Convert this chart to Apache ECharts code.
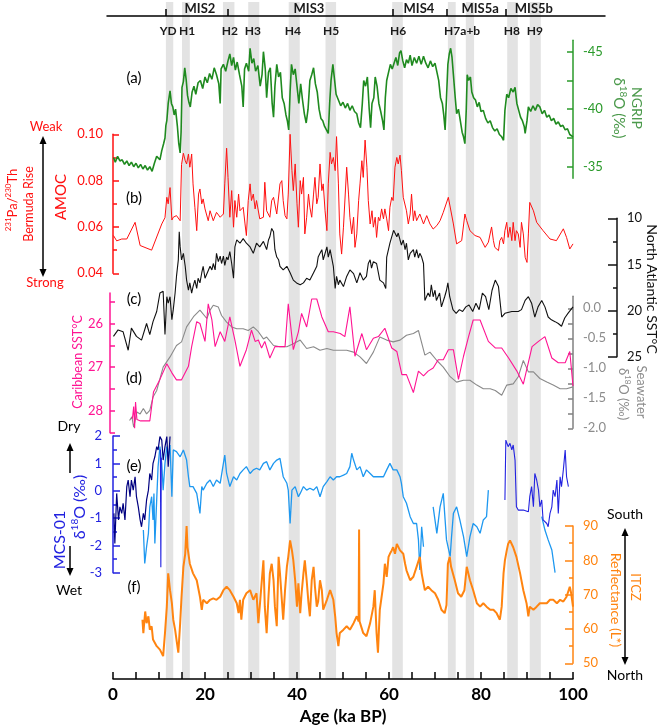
<!DOCTYPE html>
<html><head><meta charset="utf-8">
<script src="https://cdn.jsdelivr.net/npm/echarts@6/dist/echarts.min.js"></script>
<style>html,body{margin:0;padding:0;background:#fff}#c{width:660px;height:726px}</style>
</head><body><div id="c"></div>
<script>
// ---------------- DATA ----------------
const bands = [[11.5,13.1],[15.0,16.7],[23.9,26.4],[29.4,31.8],[38.2,40.6],[46.2,48.5],[60.7,63.0],[72.8,74.5],[76.7,78.5],[85.7,88.0],[90.6,93.0]];
const hPos = [12.0,16.1,25.4,30.4,39.1,47.4,62.0,75.9,86.7,91.7];
const hNames = ['YD','H1','H2','H3','H4','H5','H6','H7a+b','H8','H9'];
const misBounds = [11.5,25.0,60.8,72.5,85.4];
const misPos = [18.9,42.6,66.5,79.8,91.5];
const misNames = ['MIS2','MIS3','MIS4','MIS5a','MIS5b'];

const ngrip = [[0.1,-35.8],[0.5,-35.4],[1.0,-35.9],[1.5,-35.5],[2.0,-35.6],[2.5,-35.2],[3.0,-35.5],[3.5,-35.1],[4.0,-35.4],[4.5,-35.0],[5.0,-35.3],[5.5,-34.9],[6.0,-35.2],[6.5,-34.8],[7.0,-35.1],[7.5,-34.7],[8.0,-35.0],[8.5,-34.6],[9.0,-35.3],[9.5,-35.9],[10.2,-35.6],[10.6,-36.4],[11.0,-37.0],[11.3,-37.5],[11.5,-38.6],[11.7,-39.0],[12.0,-40.5],[12.4,-41.6],[12.7,-40.5],[13.0,-40.2],[13.3,-39.5],[13.6,-40.0],[14.0,-38.5],[14.3,-37.0],[14.6,-36.2],[14.8,-38.0],[15.0,-41.9],[15.3,-42.4],[15.6,-43.6],[15.9,-42.6],[16.2,-41.2],[16.5,-40.6],[16.8,-40.2],[17.2,-41.5],[17.6,-42.0],[18.0,-41.3],[18.5,-42.3],[19.0,-42.5],[19.5,-41.8],[20.0,-42.8],[20.5,-42.3],[21.0,-43.1],[21.5,-42.6],[22.0,-43.6],[22.5,-43.0],[23.0,-42.2],[23.3,-40.5],[23.5,-43.5],[24.0,-43.9],[24.5,-43.3],[25.0,-44.2],[25.4,-44.8],[25.8,-43.8],[26.2,-44.5],[26.6,-43.4],[27.0,-44.1],[27.5,-43.0],[28.0,-42.0],[28.3,-40.2],[28.6,-43.5],[29.0,-44.0],[29.5,-43.3],[29.8,-45.3],[30.2,-44.0],[30.6,-44.4],[31.0,-43.3],[31.5,-43.8],[32.0,-42.0],[32.4,-43.0],[32.7,-45.0],[33.1,-43.5],[33.4,-41.0],[33.8,-43.2],[34.2,-43.6],[34.6,-40.5],[34.9,-39.3],[35.2,-42.0],[35.6,-43.9],[36.0,-42.8],[36.4,-43.2],[36.8,-41.0],[37.2,-40.5],[37.6,-39.5],[37.9,-39.0],[38.2,-38.2],[38.5,-41.5],[38.8,-43.9],[39.2,-43.0],[39.6,-43.5],[40.0,-42.0],[40.4,-40.5],[40.8,-42.2],[41.2,-40.8],[41.6,-39.6],[42.0,-38.8],[42.4,-40.0],[42.8,-42.5],[43.2,-43.0],[43.6,-43.6],[44.0,-42.2],[44.4,-41.5],[44.8,-40.0],[45.2,-39.2],[45.6,-39.0],[46.0,-38.5],[46.4,-38.4],[46.8,-37.9],[47.1,-40.5],[47.4,-42.5],[47.8,-43.9],[48.1,-42.8],[48.5,-41.3],[49.0,-40.8],[49.5,-40.3],[50.0,-40.6],[50.5,-40.1],[51.0,-40.5],[51.5,-39.9],[52.0,-40.3],[52.5,-39.8],[53.0,-39.6],[53.4,-38.8],[53.8,-38.4],[54.2,-40.5],[54.5,-42.5],[54.9,-42.0],[55.3,-42.8],[55.7,-40.0],[56.0,-38.4],[56.3,-40.5],[56.7,-41.0],[57.0,-42.8],[57.4,-42.0],[57.8,-40.5],[58.2,-39.8],[58.6,-39.0],[58.9,-38.2],[59.2,-41.0],[59.5,-42.5],[59.9,-43.2],[60.3,-43.9],[60.7,-43.5],[61.1,-44.0],[61.5,-44.5],[61.9,-43.8],[62.3,-44.9],[62.6,-45.1],[63.0,-44.2],[63.4,-43.6],[63.8,-44.3],[64.2,-44.0],[64.6,-44.7],[65.0,-43.8],[65.5,-44.5],[66.0,-44.0],[66.5,-44.6],[67.0,-43.9],[67.5,-44.6],[68.0,-44.0],[68.5,-43.6],[69.0,-44.2],[69.5,-43.7],[70.0,-44.0],[70.4,-43.9],[70.8,-42.5],[71.2,-41.0],[71.6,-40.5],[71.9,-39.5],[72.2,-38.2],[72.5,-41.0],[72.8,-43.9],[73.1,-44.8],[73.4,-45.3],[73.7,-44.5],[74.0,-43.0],[74.4,-41.0],[74.7,-39.6],[75.1,-40.0],[75.5,-39.0],[75.9,-38.0],[76.2,-37.6],[76.5,-37.0],[76.8,-40.0],[77.0,-43.0],[77.3,-42.5],[77.7,-42.8],[78.0,-41.5],[78.4,-41.0],[78.8,-40.8],[79.2,-40.2],[79.6,-40.6],[80.0,-39.8],[80.5,-39.9],[81.0,-39.2],[81.5,-38.8],[82.0,-39.0],[82.5,-38.4],[83.0,-38.1],[83.5,-38.3],[84.0,-37.8],[84.5,-37.6],[84.9,-37.3],[85.2,-39.9],[85.6,-41.3],[86.0,-41.0],[86.5,-41.8],[87.0,-41.5],[87.4,-41.9],[87.8,-40.5],[88.2,-39.9],[88.6,-39.3],[89.0,-39.0],[89.4,-38.5],[89.6,-37.9],[90.0,-39.0],[90.3,-40.2],[90.8,-39.8],[91.3,-40.3],[91.8,-39.9],[92.3,-40.4],[92.8,-40.2],[93.3,-39.6],[93.8,-39.9],[94.3,-39.3],[94.8,-39.5],[95.3,-39.0],[95.8,-39.2],[96.3,-38.7],[96.8,-38.9],[97.3,-38.5],[97.8,-38.6],[98.3,-38.2],[98.8,-38.3],[99.3,-37.8],[100,-37.6]];

const amoc = [[0.1,0.0563],[0.8,0.054],[1.9,0.0548],[3.0,0.0548],[4.8,0.062],[5.9,0.052],[8.4,0.050],[10.6,0.0613],[11.3,0.064],[11.7,0.0728],[12.0,0.070],[12.4,0.077],[12.8,0.063],[13.1,0.0642],[13.8,0.0649],[14.6,0.0627],[14.9,0.087],[15.3,0.0918],[15.7,0.0886],[16.0,0.0872],[16.4,0.0915],[16.7,0.0858],[17.1,0.0915],[17.4,0.0786],[17.8,0.0685],[18.2,0.0584],[18.6,0.0742],[18.9,0.0764],[19.3,0.070],[19.6,0.0721],[20.0,0.0678],[20.4,0.067],[20.7,0.0627],[21.1,0.067],[21.8,0.0627],[22.5,0.0663],[23.3,0.0642],[24.0,0.0656],[24.3,0.0786],[24.7,0.094],[25.0,0.0814],[25.4,0.0642],[25.8,0.0757],[26.2,0.0599],[26.5,0.0714],[26.9,0.0642],[27.3,0.0742],[27.6,0.067],[28.3,0.0685],[28.7,0.0613],[29.0,0.0563],[29.4,0.0714],[29.8,0.0786],[30.1,0.0714],[30.5,0.0742],[30.9,0.0678],[31.2,0.0714],[31.9,0.0635],[32.7,0.0642],[33.0,0.0793],[33.4,0.067],[34.1,0.0642],[34.5,0.0714],[34.9,0.0728],[35.6,0.0656],[36.3,0.0786],[36.7,0.080],[37.0,0.0714],[37.4,0.0649],[37.8,0.0635],[38.1,0.0742],[38.5,0.100],[38.9,0.0843],[39.2,0.0757],[39.6,0.0872],[40.0,0.070],[40.3,0.0599],[40.7,0.080],[41.0,0.0742],[41.4,0.0814],[41.7,0.057],[42.1,0.0642],[42.5,0.0742],[42.8,0.0685],[43.2,0.0642],[43.6,0.0742],[43.9,0.0814],[44.3,0.070],[44.6,0.0728],[45.0,0.0872],[45.4,0.0757],[45.7,0.0786],[46.1,0.067],[46.5,0.0584],[46.8,0.0786],[47.2,0.0922],[47.5,0.0872],[47.9,0.090],[48.3,0.0843],[48.6,0.099],[49.0,0.0786],[49.3,0.057],[49.7,0.0483],[50.1,0.0599],[50.8,0.0858],[51.2,0.0742],[51.5,0.0642],[51.9,0.057],[52.3,0.0642],[52.6,0.0512],[53.0,0.057],[53.4,0.0714],[53.7,0.0786],[54.1,0.0886],[54.4,0.0814],[54.8,0.0975],[55.2,0.0858],[55.5,0.0714],[55.9,0.0613],[56.3,0.067],[56.6,0.0599],[57.0,0.0642],[57.3,0.0555],[57.7,0.0642],[58.0,0.0627],[58.4,0.0678],[58.8,0.0635],[59.1,0.0678],[59.5,0.0635],[59.9,0.0584],[60.2,0.0685],[60.6,0.0728],[60.9,0.0714],[61.3,0.0858],[61.7,0.090],[62.0,0.0872],[62.4,0.091],[62.7,0.0843],[63.1,0.0728],[63.8,0.067],[64.2,0.0613],[64.6,0.0656],[64.9,0.0742],[65.3,0.0627],[65.6,0.067],[66.0,0.0627],[66.7,0.0656],[67.5,0.0613],[68.2,0.0649],[68.9,0.0613],[69.6,0.0591],[70.4,0.0606],[71.1,0.0627],[71.8,0.0663],[72.9,0.0728],[74.0,0.0613],[74.7,0.0527],[75.8,0.0541],[76.5,0.0656],[76.9,0.0627],[77.6,0.0584],[78.7,0.0563],[79.8,0.0555],[80.9,0.0512],[81.6,0.0534],[82.3,0.060],[82.7,0.0541],[83.0,0.0512],[83.8,0.0498],[84.1,0.0541],[84.5,0.0555],[84.9,0.0527],[85.2,0.0584],[85.6,0.062],[85.9,0.0555],[86.3,0.0599],[86.7,0.0541],[87.0,0.062],[87.4,0.0541],[87.7,0.0584],[88.1,0.057],[88.5,0.0512],[88.8,0.062],[89.2,0.057],[89.6,0.0469],[90.0,0.0447],[90.3,0.057],[90.6,0.0706],[91.4,0.067],[92.1,0.062],[93.5,0.0584],[95.0,0.0548],[96.4,0.0541],[97.9,0.0592],[98.6,0.0555],[99.3,0.0505],[100,0.0527]];

const naSST = [[0.1,22.8],[1.1,22.1],[2.2,22.3],[3.3,24.3],[4.0,21.9],[5.1,22.8],[6.2,23.2],[7.3,21.4],[8.0,22.6],[8.7,21.2],[9.5,20.1],[10.2,18.1],[10.9,17.9],[11.3,22.6],[11.7,18.5],[12.0,19.2],[12.4,18.5],[12.8,21.0],[13.1,19.9],[13.5,18.1],[13.8,16.3],[14.2,14.5],[14.4,11.45],[14.6,13.1],[14.9,14.5],[15.3,13.8],[15.7,15.2],[16.0,16.7],[16.4,17.8],[16.7,17.0],[17.1,18.1],[17.4,17.4],[17.8,16.7],[18.2,17.6],[18.5,16.5],[18.9,17.0],[19.3,15.9],[19.6,15.2],[20.0,16.5],[20.4,16.3],[21.1,15.2],[21.5,15.6],[21.8,14.9],[22.2,15.6],[22.5,13.8],[22.9,14.7],[23.3,14.1],[23.6,14.9],[24.0,14.1],[24.3,15.1],[24.7,14.2],[25.0,14.5],[25.4,13.6],[25.8,14.9],[26.2,16.5],[26.5,13.1],[26.9,12.35],[27.6,12.7],[28.3,12.2],[29.0,12.7],[29.8,13.1],[30.5,13.8],[31.2,12.7],[31.9,13.1],[32.7,12.5],[33.4,13.4],[33.8,12.35],[34.1,12.0],[34.5,11.1],[34.9,11.45],[35.2,13.4],[35.6,14.2],[36.0,14.5],[36.3,15.2],[37.0,15.6],[37.8,15.2],[38.5,15.9],[39.2,16.7],[39.9,17.0],[40.7,17.2],[41.4,17.0],[42.1,16.5],[42.8,16.7],[43.6,15.9],[44.3,15.2],[44.6,14.2],[45.0,13.8],[45.4,13.4],[45.7,14.5],[46.1,13.8],[46.5,13.1],[46.8,14.2],[47.2,13.4],[47.9,15.2],[48.3,17.6],[48.6,16.3],[49.0,17.2],[49.3,16.7],[50.1,17.4],[50.8,16.3],[51.5,15.6],[52.3,16.0],[53.0,17.0],[53.7,15.9],[54.4,16.7],[55.1,16.3],[55.5,14.9],[55.9,14.5],[56.2,15.4],[56.6,14.7],[57.3,14.9],[58.0,16.7],[58.8,17.0],[59.3,17.6],[59.5,14.2],[60.2,12.7],[61.0,11.3],[61.7,12.0],[62.0,11.6],[62.4,12.35],[62.7,12.9],[63.1,12.35],[63.5,13.4],[63.8,12.7],[64.2,14.5],[64.6,13.8],[65.3,13.4],[65.6,14.2],[66.0,13.4],[66.4,14.3],[66.7,13.8],[67.1,14.2],[67.5,14.9],[67.8,18.9],[68.5,18.1],[68.9,18.5],[69.2,17.2],[69.6,18.5],[70.0,17.8],[70.3,18.9],[71.0,18.1],[71.4,19.6],[72.1,18.5],[72.5,17.8],[72.8,17.0],[73.2,18.5],[73.9,19.9],[74.6,20.3],[75.3,19.9],[76.0,20.1],[76.7,19.6],[77.4,19.4],[78.2,20.1],[78.9,19.2],[79.6,19.9],[80.3,18.1],[81.0,18.5],[81.7,19.9],[82.4,17.8],[83.1,16.7],[83.8,17.4],[84.5,20.7],[85.2,20.3],[86.7,20.1],[88.1,20.1],[88.8,19.9],[89.6,18.9],[90.3,18.5],[91.0,19.2],[91.7,20.7],[92.4,19.6],[93.2,18.9],[93.9,19.6],[94.6,20.7],[95.3,21.0],[96.1,21.2],[96.8,21.4],[97.5,21.7],[98.2,20.8],[98.9,20.3],[100,19.6]];

const caribSST = [[4.2,28.18],[4.3,28.1],[4.5,27.9],[4.7,28.4],[4.9,27.8],[5.2,28.2],[5.5,28.22],[6.0,28.23],[8.0,28.23],[8.8,27.57],[10.2,27.28],[11.7,26.92],[12.8,27.13],[13.8,27.29],[14.9,27.29],[16.4,26.98],[17.1,26.53],[18.2,25.96],[18.9,26.0],[20.0,26.41],[20.7,25.55],[21.5,25.92],[22.2,26.53],[23.3,26.19],[24.3,26.41],[25.4,25.85],[26.5,26.38],[27.6,26.98],[29.0,26.6],[30.1,26.15],[30.9,26.41],[31.6,26.38],[32.3,26.56],[33.0,26.41],[34.1,26.79],[35.2,26.53],[36.3,26.53],[37.4,26.53],[38.1,25.55],[39.2,26.6],[40.3,26.19],[41.0,25.77],[42.1,26.08],[43.2,25.44],[44.3,25.44],[45.4,25.85],[46.8,26.19],[47.9,26.19],[49.4,26.23],[50.4,26.3],[51.5,25.62],[52.6,26.75],[54.1,26.23],[55.1,26.6],[56.6,26.34],[57.7,26.3],[59.1,26.11],[60.6,26.56],[61.7,26.64],[62.8,27.17],[63.8,27.17],[65.3,27.58],[66.4,27.09],[67.5,27.2],[68.5,27.09],[69.6,27.02],[70.7,26.83],[71.8,26.83],[72.9,26.6],[74.0,26.6],[75.1,27.28],[76.2,26.75],[77.3,26.3],[78.3,25.92],[79.8,25.92],[81.6,26.41],[83.1,26.56],[84.5,26.56],[86.0,26.79],[87.8,27.09],[89.2,27.39],[91.1,26.53],[92.5,26.41],[93.9,26.3],[95.4,26.79],[96.8,26.9],[98.3,26.9],[99.3,26.64],[100,27.43]];

const seawater = [[3.6,-1.87],[4.1,-1.81],[4.5,-1.98],[5.2,-1.73],[5.9,-1.76],[6.6,-1.67],[7.3,-1.76],[8.0,-1.70],[8.7,-1.48],[9.5,-1.37],[10.9,-0.98],[12.4,-0.81],[13.8,-0.62],[14.9,-0.56],[16.0,-0.31],[17.5,-0.14],[18.9,-0.03],[20.4,-0.17],[21.1,-0.03],[21.8,0.05],[22.9,0.02],[23.6,-0.12],[24.7,-0.23],[25.8,-0.31],[26.9,-0.34],[28.3,-0.34],[29.4,-0.37],[30.5,-0.31],[31.6,-0.39],[32.7,-0.51],[33.4,-0.48],[34.9,-0.62],[36.3,-0.64],[37.8,-0.64],[39.2,-0.59],[40.7,-0.53],[42.1,-0.67],[43.6,-0.64],[45.0,-0.70],[46.5,-0.67],[47.9,-0.70],[49.4,-0.70],[50.8,-0.70],[52.3,-0.73],[53.7,-0.81],[55.1,-0.92],[56.6,-0.73],[58.0,-0.48],[59.5,-0.53],[60.9,-0.56],[62.4,-0.53],[63.8,-0.45],[65.3,-0.42],[66.4,-0.37],[67.8,-0.78],[68.9,-0.73],[70.4,-0.87],[71.8,-0.98],[73.3,-1.14],[74.7,-1.23],[76.2,-1.20],[77.6,-1.20],[79.1,-1.28],[80.5,-1.34],[82.0,-1.34],[83.1,-1.37],[84.5,-1.45],[85.6,-1.28],[87.0,-1.26],[88.1,-1.14],[89.2,-0.87],[90.3,-1.06],[91.4,-1.06],[92.8,-1.17],[94.3,-1.23],[95.7,-1.28],[97.2,-1.34],[98.6,-1.34],[100,-1.31]];

const mcsLight = [[6.6,-1.44],[6.9,-2.66],[7.3,-2.05],[7.7,-1.56],[8.0,-0.59],[8.4,-0.22],[8.7,-1.07],[8.9,-0.1],[9.1,-1.93],[9.5,-0.34],[9.8,0.88],[10.2,1.61],[10.6,1.0],[10.9,0.02],[11.3,1.0],[11.7,1.61],[12.0,1.24],[12.4,1.67],[12.8,-0.22],[13.1,1.49],[13.8,1.43],[14.6,1.24],[15.3,1.49],[15.7,1.55],[16.0,1.12],[16.4,0.51],[16.7,0.15],[17.4,0.15],[18.2,-0.1],[18.9,-0.83],[19.3,0.15],[19.6,0.02],[20.4,0.27],[21.1,0.39],[21.8,0.15],[22.5,0.39],[23.3,0.27],[24.0,1.0],[24.3,1.3],[24.7,0.63],[25.4,0.15],[26.2,0.51],[26.9,0.39],[27.6,0.63],[28.3,0.76],[29.0,0.88],[29.8,0.63],[30.5,0.76],[31.2,0.82],[31.9,0.76],[32.7,1.0],[33.4,1.06],[34.1,0.76],[34.9,1.0],[35.6,1.12],[36.3,1.18],[37.0,0.51],[37.8,0.27],[38.1,0.02],[38.5,-1.2],[38.9,0.02],[39.6,0.15],[40.3,-0.22],[40.7,-0.1],[41.4,0.15],[42.1,0.02],[42.8,0.09],[43.6,0.02],[44.3,0.15],[45.0,-0.22],[45.7,0.15],[46.5,0.33],[47.2,0.51],[47.9,0.39],[48.6,0.51],[49.3,0.51],[50.1,0.57],[50.8,0.63],[51.5,0.88],[51.9,1.37],[52.3,1.12],[53.0,0.76],[53.7,0.88],[54.4,0.51],[55.1,0.76],[55.9,0.63],[56.6,0.51],[57.3,0.51],[58.0,0.51],[58.8,0.51],[59.5,0.76],[60.2,1.0],[60.9,0.76],[61.7,0.76],[62.4,0.51],[62.7,0.27],[63.1,-0.22],[63.8,-0.46],[64.6,-0.95],[65.3,-1.2],[66.0,-1.2],[66.4,-1.8],[66.7,-2.9],[67.1,-1.32],[67.5,-2.05],[68.5,null],[69.6,-0.59],[70.4,-1.56],[71.1,-0.59],[71.8,-0.1],[72.2,-1.07],[72.5,-1.8],[73.3,-2.41],[73.6,-1.68],[74.0,-0.83],[74.7,-0.59],[75.4,-1.07],[76.2,-1.68],[76.9,-2.41],[77.6,-1.68],[78.3,-1.2],[79.1,-1.32],[79.8,-1.56],[80.5,-1.07],[81.2,-0.95],[81.6,0.02],[85.0,null],[93.2,-0.95],[93.9,-1.44],[94.6,-1.8],[95.4,-2.17],[96.1,-3.0]];

const mcsNavy = [[0.2,-0.83],[0.4,-1.93],[0.8,-0.1],[1.2,-1.07],[1.5,-0.59],[1.9,-0.83],[2.2,-0.46],[2.6,-1.07],[3.0,0.15],[3.3,0.39],[3.7,-0.22],[4.0,0.39],[4.4,0.02],[4.8,0.51],[5.1,-0.22],[5.5,-0.59],[5.9,-1.07],[6.2,-1.32],[6.6,-0.83],[6.9,-1.07],[7.3,-0.34],[7.7,0.02],[8.0,0.63],[8.4,0.39],[8.7,1.0],[9.1,1.24],[9.5,1.61],[9.8,1.49],[10.2,1.98],[10.6,1.85],[10.9,1.12],[11.3,1.61],[11.7,1.98],[12.0,0.88],[12.4,1.98]];

const mcsBlue = [[10.3,1.5],[10.4,-2.8],[10.5,1.2],[11.0,null],[85.2,-0.34],[85.4,1.85],[85.9,1.61],[86.3,1.73],[86.7,1.49],[87.0,1.67],[87.4,1.12],[87.7,-0.59],[88.1,-0.71],[89.2,-0.71],[90.3,-0.77],[90.6,-0.22],[91.0,0.15],[91.4,-0.59],[91.7,0.63],[92.1,0.39],[92.5,0.02],[92.8,-0.59],[93.2,-0.34],[93.5,-1.07],[94.3,-1.2],[94.6,-1.32],[95.0,-0.83],[95.4,-0.59],[95.7,0.02],[96.1,-0.22],[96.5,0.39],[96.8,-0.83],[97.2,0.51],[97.5,0.15],[97.9,0.76],[98.3,1.49],[98.6,0.51],[99.0,0.15]];

const itcz = [[6.4,62.7],[6.6,58.8],[7.0,65.1],[7.3,61.7],[7.7,63.7],[8.0,59.8],[8.4,60.8],[8.7,56.9],[9.5,55.0],[10.2,54.0],[10.9,52.1],[11.3,58.8],[11.7,66.5],[12.0,76.2],[12.4,71.3],[12.8,67.5],[13.1,62.7],[13.5,59.8],[13.8,56.9],[14.2,53.1],[14.6,61.7],[14.9,69.4],[15.3,78.1],[15.7,81.9],[16.0,90.0],[16.2,83.8],[16.7,79.0],[17.4,76.2],[18.2,74.2],[18.9,69.4],[19.3,65.6],[19.6,68.5],[20.4,67.5],[21.1,68.5],[21.8,68.9],[22.5,68.5],[23.3,69.4],[24.0,71.3],[24.7,72.3],[25.4,71.3],[26.2,69.4],[26.9,67.5],[27.3,64.6],[27.6,68.5],[27.9,62.7],[28.3,68.5],[29.0,70.4],[29.8,71.3],[30.5,68.5],[31.2,70.4],[31.6,61.7],[31.9,66.5],[32.3,73.3],[32.7,80.0],[33.0,66.5],[33.4,58.8],[33.8,69.4],[34.1,76.2],[34.5,79.0],[34.9,74.2],[35.2,66.5],[35.6,60.8],[36.0,81.0],[36.3,76.2],[36.7,68.5],[37.0,62.7],[37.4,71.3],[37.8,78.1],[38.1,81.0],[38.5,85.8],[38.9,82.9],[39.2,80.0],[39.6,74.2],[40.0,66.5],[40.3,73.3],[40.7,64.6],[41.0,70.4],[41.4,76.2],[41.7,80.0],[42.1,74.2],[42.5,67.5],[42.8,63.7],[43.2,74.2],[43.6,78.1],[43.9,72.3],[44.3,66.5],[44.6,68.0],[45.0,74.2],[45.4,71.3],[45.7,65.6],[46.5,68.5],[47.2,71.3],[47.9,68.5],[48.3,63.7],[48.6,58.8],[49.0,55.0],[49.3,58.8],[50.1,59.8],[50.8,60.8],[51.5,59.8],[52.3,61.7],[53.0,63.7],[53.4,62.2],[53.5,89.0],[53.6,62.2],[54.4,58.8],[55.1,57.9],[55.9,61.7],[56.6,66.5],[56.9,71.3],[57.3,58.8],[57.6,53.1],[58.0,65.6],[58.4,69.4],[58.8,73.3],[59.1,79.0],[59.5,75.2],[59.9,81.0],[60.2,81.9],[60.6,82.9],[60.9,83.8],[61.3,81.9],[61.7,84.8],[62.4,82.9],[63.1,81.9],[63.5,79.0],[63.8,77.1],[64.6,74.2],[65.3,75.2],[66.0,78.1],[66.7,81.0],[67.1,76.2],[67.5,73.3],[67.8,71.3],[68.5,72.3],[69.2,71.3],[70.0,70.4],[70.7,68.5],[71.4,65.6],[72.1,64.6],[72.5,67.0],[72.8,79.0],[73.2,81.0],[73.5,78.1],[74.3,74.2],[75.0,70.4],[75.7,69.4],[76.4,71.3],[76.9,78.1],[77.6,74.2],[78.3,71.3],[79.1,67.5],[79.8,66.5],[80.5,67.5],[81.2,66.5],[82.0,65.6],[82.7,65.6],[83.4,64.6],[84.1,62.7],[84.5,66.5],[84.9,76.2],[85.2,80.0],[85.6,82.9],[85.9,84.8],[86.3,85.8],[87.0,83.8],[87.7,81.0],[88.5,76.2],[89.2,71.3],[89.9,67.5],[90.3,63.7],[90.6,66.5],[91.4,65.6],[92.1,66.5],[92.8,67.5],[93.5,67.5],[94.3,67.5],[95.0,68.5],[95.7,68.5],[96.5,67.5],[97.2,68.5],[97.9,68.0],[98.6,69.4],[99.3,72.3],[99.6,70.4],[100,66.5]];

// tick values (all tick marks / labelled ticks)
const ngripTicks=[-45,-42.5,-40,-37.5,-35], ngripLabels=[-45,-40,-35];
const cbTicks=[25.5,26,26.5,27,27.5,28,28.5], cbLabels=[26,27,28];
const swTicks=[0,-0.25,-0.5,-0.75,-1.0,-1.25,-1.5,-1.75,-2.0], swLabels=[0,-0.5,-1.0,-1.5,-2.0];

// ---------------- CHART ----------------
const FONT = 'Lato, "Open Sans", sans-serif';
const C = {green:'#1f8a1f', greenAx:'#2a9a2a', red:'#ff1010', black:'#111', pink:'#ff1493', gray:'#8a8a8a', blue:'#2222e0', navy:'#000080', light:'#1e98f0', orange:'#ff8410'};
const L=113, R=87;
const panels = [
  {top:40.2,height:138},   // NGRIP
  {top:134.3,height:139},  // AMOC
  {top:218.3,height:138.4},// NA SST
  {top:292.9,height:139.8},// Caribbean SST
  {top:296.3,height:132},  // seawater
  {top:436,height:136.7},  // MCS-01
  {top:526,height:137.3}   // ITCZ
];
const grid = [
  {left:L,right:R,top:2,height:677},
  {left:107,right:55,top:16,height:20},
  ...panels.map(p=>({left:L,right:R,top:p.top,height:p.height}))
].map(g=>Object.assign({outerBoundsMode:'none'},g));

const xAxis = [
  {gridIndex:0,type:'value',min:0,max:100,interval:5,position:'bottom',
   axisLine:{onZero:false,lineStyle:{color:'#000',width:1.5}},
   axisTick:{inside:true,length:7,lineStyle:{color:'#000',width:1.5}},
   axisLabel:{margin:7,color:'#000',fontSize:17,fontWeight:'bold',fontFamily:FONT,formatter:v=>v%20===0?String(v):''},
   splitLine:{show:false},
   name:'Age (ka BP)',nameLocation:'middle',nameGap:25,
   nameTextStyle:{color:'#000',fontSize:17,fontWeight:'bold',fontFamily:FONT}},
  {gridIndex:0,type:'value',min:0,max:100,position:'top',
   axisLine:{show:false},axisTick:{show:false},splitLine:{show:false},
   axisLabel:{inside:true,margin:23,customValues:hPos,color:'#1a1a1a',fontSize:12,fontWeight:'bold',fontFamily:FONT,
     formatter:v=>{const i=hPos.findIndex(p=>Math.abs(p-v)<1e-6);return i>=0?hNames[i]:'';}}},
  {gridIndex:1,type:'value',min:-6/4.6,max:492/4.6,position:'top',
   axisLine:{onZero:false,lineStyle:{color:'#000',width:1.5}},
   axisTick:{inside:false,length:7,customValues:misBounds,lineStyle:{color:'#000',width:1.5}},
   splitLine:{show:false},
   axisLabel:{margin:1,customValues:misPos,color:'#1a1a1a',fontSize:13,fontWeight:'bold',fontFamily:FONT,
     formatter:v=>{const i=misPos.findIndex(p=>Math.abs(p-v)<1e-6);return i>=0?misNames[i]:'';}}}
];
for(let g=2; g<=8; g++) xAxis.push({gridIndex:g,type:'value',min:0,max:100,show:false});

function yAx(g,o){
  const a={gridIndex:g,type:'value',position:o.pos,offset:o.offset||0,min:o.min,max:o.max,inverse:!!o.inverse,
    splitLine:{show:false},
    axisLine:{show:true,onZero:false,lineStyle:{color:o.color,width:1.5}},
    axisTick:{show:true,inside:true,length:o.tickLen||7,lineStyle:{color:o.color,width:1.5}},
    axisLabel:{show:true,formatter:o.fmt,color:o.labColor||o.color,fontSize:13,fontFamily:FONT,margin:o.margin||10}};
  if(o.interval){
    a.interval=o.interval;
    a.minorTick={show:true,splitNumber:2,length:4,lineStyle:{color:o.color,width:1.5}};
  } else {
    a.axisTick.customValues=o.ticks;
    a.axisLabel.customValues=o.labels;
  }
  return a;
}
const yAxis = [
  {gridIndex:0,type:'value',min:0,max:1,show:false},
  {gridIndex:1,type:'value',min:0,max:1,show:false},
  yAx(2,{pos:'right',min:-46,max:-34,inverse:true,color:C.greenAx,ticks:ngripTicks,labels:ngripLabels,fmt:v=>String(v),tickLen:6}),
  yAx(3,{pos:'left',min:0.04,max:0.10,interval:0.02,color:C.red,fmt:v=>v.toFixed(2),tickLen:6}),
  yAx(4,{pos:'right',offset:44,min:10,max:25,interval:5,inverse:true,color:'#111',fmt:v=>String(v),tickLen:9}),
  yAx(5,{pos:'left',offset:3,min:25.3,max:28.5,inverse:true,color:C.pink,ticks:cbTicks,labels:cbLabels,fmt:v=>String(v),tickLen:5,margin:7}),
  yAx(6,{pos:'right',min:-2.0,max:0.2,color:'#808080',labColor:'#8c8c8c',ticks:swTicks,labels:swLabels,fmt:v=>v.toFixed(1),tickLen:5}),
  yAx(7,{pos:'left',min:-3,max:2,interval:1,color:C.blue,fmt:v=>String(v),tickLen:7,margin:11}),
  yAx(8,{pos:'right',min:50,max:90,interval:10,color:C.orange,fmt:v=>String(v),tickLen:8})
];

function line(name,data,xi,yi,color,w){
  return {name,type:'line',data,xAxisIndex:xi,yAxisIndex:yi,showSymbol:false,symbol:'none',
    connectNulls:false,lineStyle:{color,width:w||1},itemStyle:{color},silent:true,z:3};
}
const series = [
  {type:'custom',xAxisIndex:0,yAxisIndex:0,z:0,silent:true,data:bands,encode:{x:[0,1]},
   renderItem:(p,api)=>{const a=api.coord([api.value(0),1]);const b=api.coord([api.value(1),0]);
     return {type:'rect',shape:{x:a[0],y:a[1],width:b[0]-a[0],height:b[1]-a[1]},style:{fill:'#e3e3e3'}};}},
  line('NGRIP',ngrip,3,2,C.green,1.6),
  line('AMOC',amoc,4,3,C.red,1),
  line('NASST',naSST,5,4,C.black,1.1),
  line('Seawater',seawater,7,6,C.gray,1.1),
  line('Carib',caribSST,6,5,C.pink,1.1),
  line('MCSlight',mcsLight,8,7,C.light,1.3),
  line('MCSnavy',mcsNavy,8,7,C.navy,1.2),
  line('MCSblue',mcsBlue,8,7,C.blue,1.1),
  line('ITCZ',itcz,9,8,C.orange,2)
];

// decorations: texts and arrows
function txt(x,y,text,o){
  o=o||{};
  return {type:'text',x,y,rotation:o.rot||0,silent:true,z:10,
    style:{text,fill:o.color||'#000',fontSize:o.size||14,fontFamily:FONT,fontWeight:o.weight||'normal',
      align:'center',verticalAlign:'middle',rich:o.rich}};
}
function supRich(color,size){
  return {n:{fill:color,fontSize:size,fontFamily:FONT,verticalAlign:'bottom',lineHeight:size+2},
          s:{fill:color,fontSize:Math.round(size*0.65),fontFamily:FONT,verticalAlign:'top',lineHeight:size+2}};
}
function arrow(x,y1,y2,up,down){
  const els=[{type:'line',silent:true,z:10,shape:{x1:x,y1:y1+(up?5:0),x2:x,y2:y2-(down?5:0)},style:{stroke:'#000',lineWidth:1.5}}];
  if(up) els.push({type:'polygon',silent:true,z:10,shape:{points:[[x,y1],[x-3.5,y1+8],[x+3.5,y1+8]]},style:{fill:'#000'}});
  if(down) els.push({type:'polygon',silent:true,z:10,shape:{points:[[x,y2],[x-3.5,y2-8],[x+3.5,y2-8]]},style:{fill:'#000'}});
  return els;
}
const UP=Math.PI/2, DN=-Math.PI/2;
const graphic = [
  txt(134,78,'(a)',{size:15}), txt(134,198,'(b)',{size:15}), txt(134,299,'(c)',{size:15}),
  txt(134,378,'(d)',{size:15}), txt(134,466,'(e)',{size:15}), txt(134,587,'(f)',{size:15}),
  // AMOC side
  txt(12,200,'{s|231}{n|Pa/}{s|230}{n|Th}',{rot:UP,color:C.red,rich:supRich(C.red,13)}),
  txt(29,204,'Bermuda Rise',{rot:UP,color:C.red,size:12.5}),
  txt(61,197,'AMOC',{rot:UP,color:C.red,size:15}),
  txt(46,127,'Weak',{color:C.red,size:13}),
  txt(45,283,'Strong',{color:C.red,size:13}),
  ...arrow(43,136,277,true,true),
  // Caribbean
  txt(78,362,'Caribbean SST°C',{rot:UP,color:C.pink,size:12.5}),
  // MCS
  txt(60,540,'MCS-01',{rot:UP,color:C.blue,size:16}),
  txt(79,507,'{n|δ}{s|18}{n|O (‰)}',{rot:UP,color:C.blue,rich:supRich(C.blue,16)}),
  txt(69,426,'Dry',{size:14}), ...arrow(70,443,473,true,false),
  txt(69,590,'Wet',{size:14}), ...arrow(70,546,576,false,true),
  // NGRIP
  txt(637,108,'NGRIP',{rot:DN,color:'#4c9a4c',size:14}),
  txt(620,108,'{n|δ}{s|18}{n|O (‰)}',{rot:DN,rich:supRich('#4c9a4c',15)}),
  // NA SST
  txt(652,289,'North Atlantic SST°C',{rot:DN,color:'#111',size:14}),
  // Seawater
  txt(641,392,'Seawater',{rot:DN,color:'#8c8c8c',size:13}),
  txt(624,394,'{n|δ}{s|18}{n|O (‰)}',{rot:DN,rich:supRich('#8c8c8c',13)}),
  // ITCZ
  txt(635,587,'ITCZ',{rot:DN,color:C.orange,size:13}),
  txt(616,600,'Reflectance (L*)',{rot:DN,color:C.orange,size:14}),
  ...arrow(625,528,665,true,true),
  txt(625,514,'South',{size:14}), txt(625,675,'North',{size:14})
];

const chart = echarts.init(document.getElementById('c'),null,{renderer:'canvas'});
chart.setOption({animation:false,backgroundColor:'#fff',grid,xAxis,yAxis,series,graphic});
</script></body></html>
